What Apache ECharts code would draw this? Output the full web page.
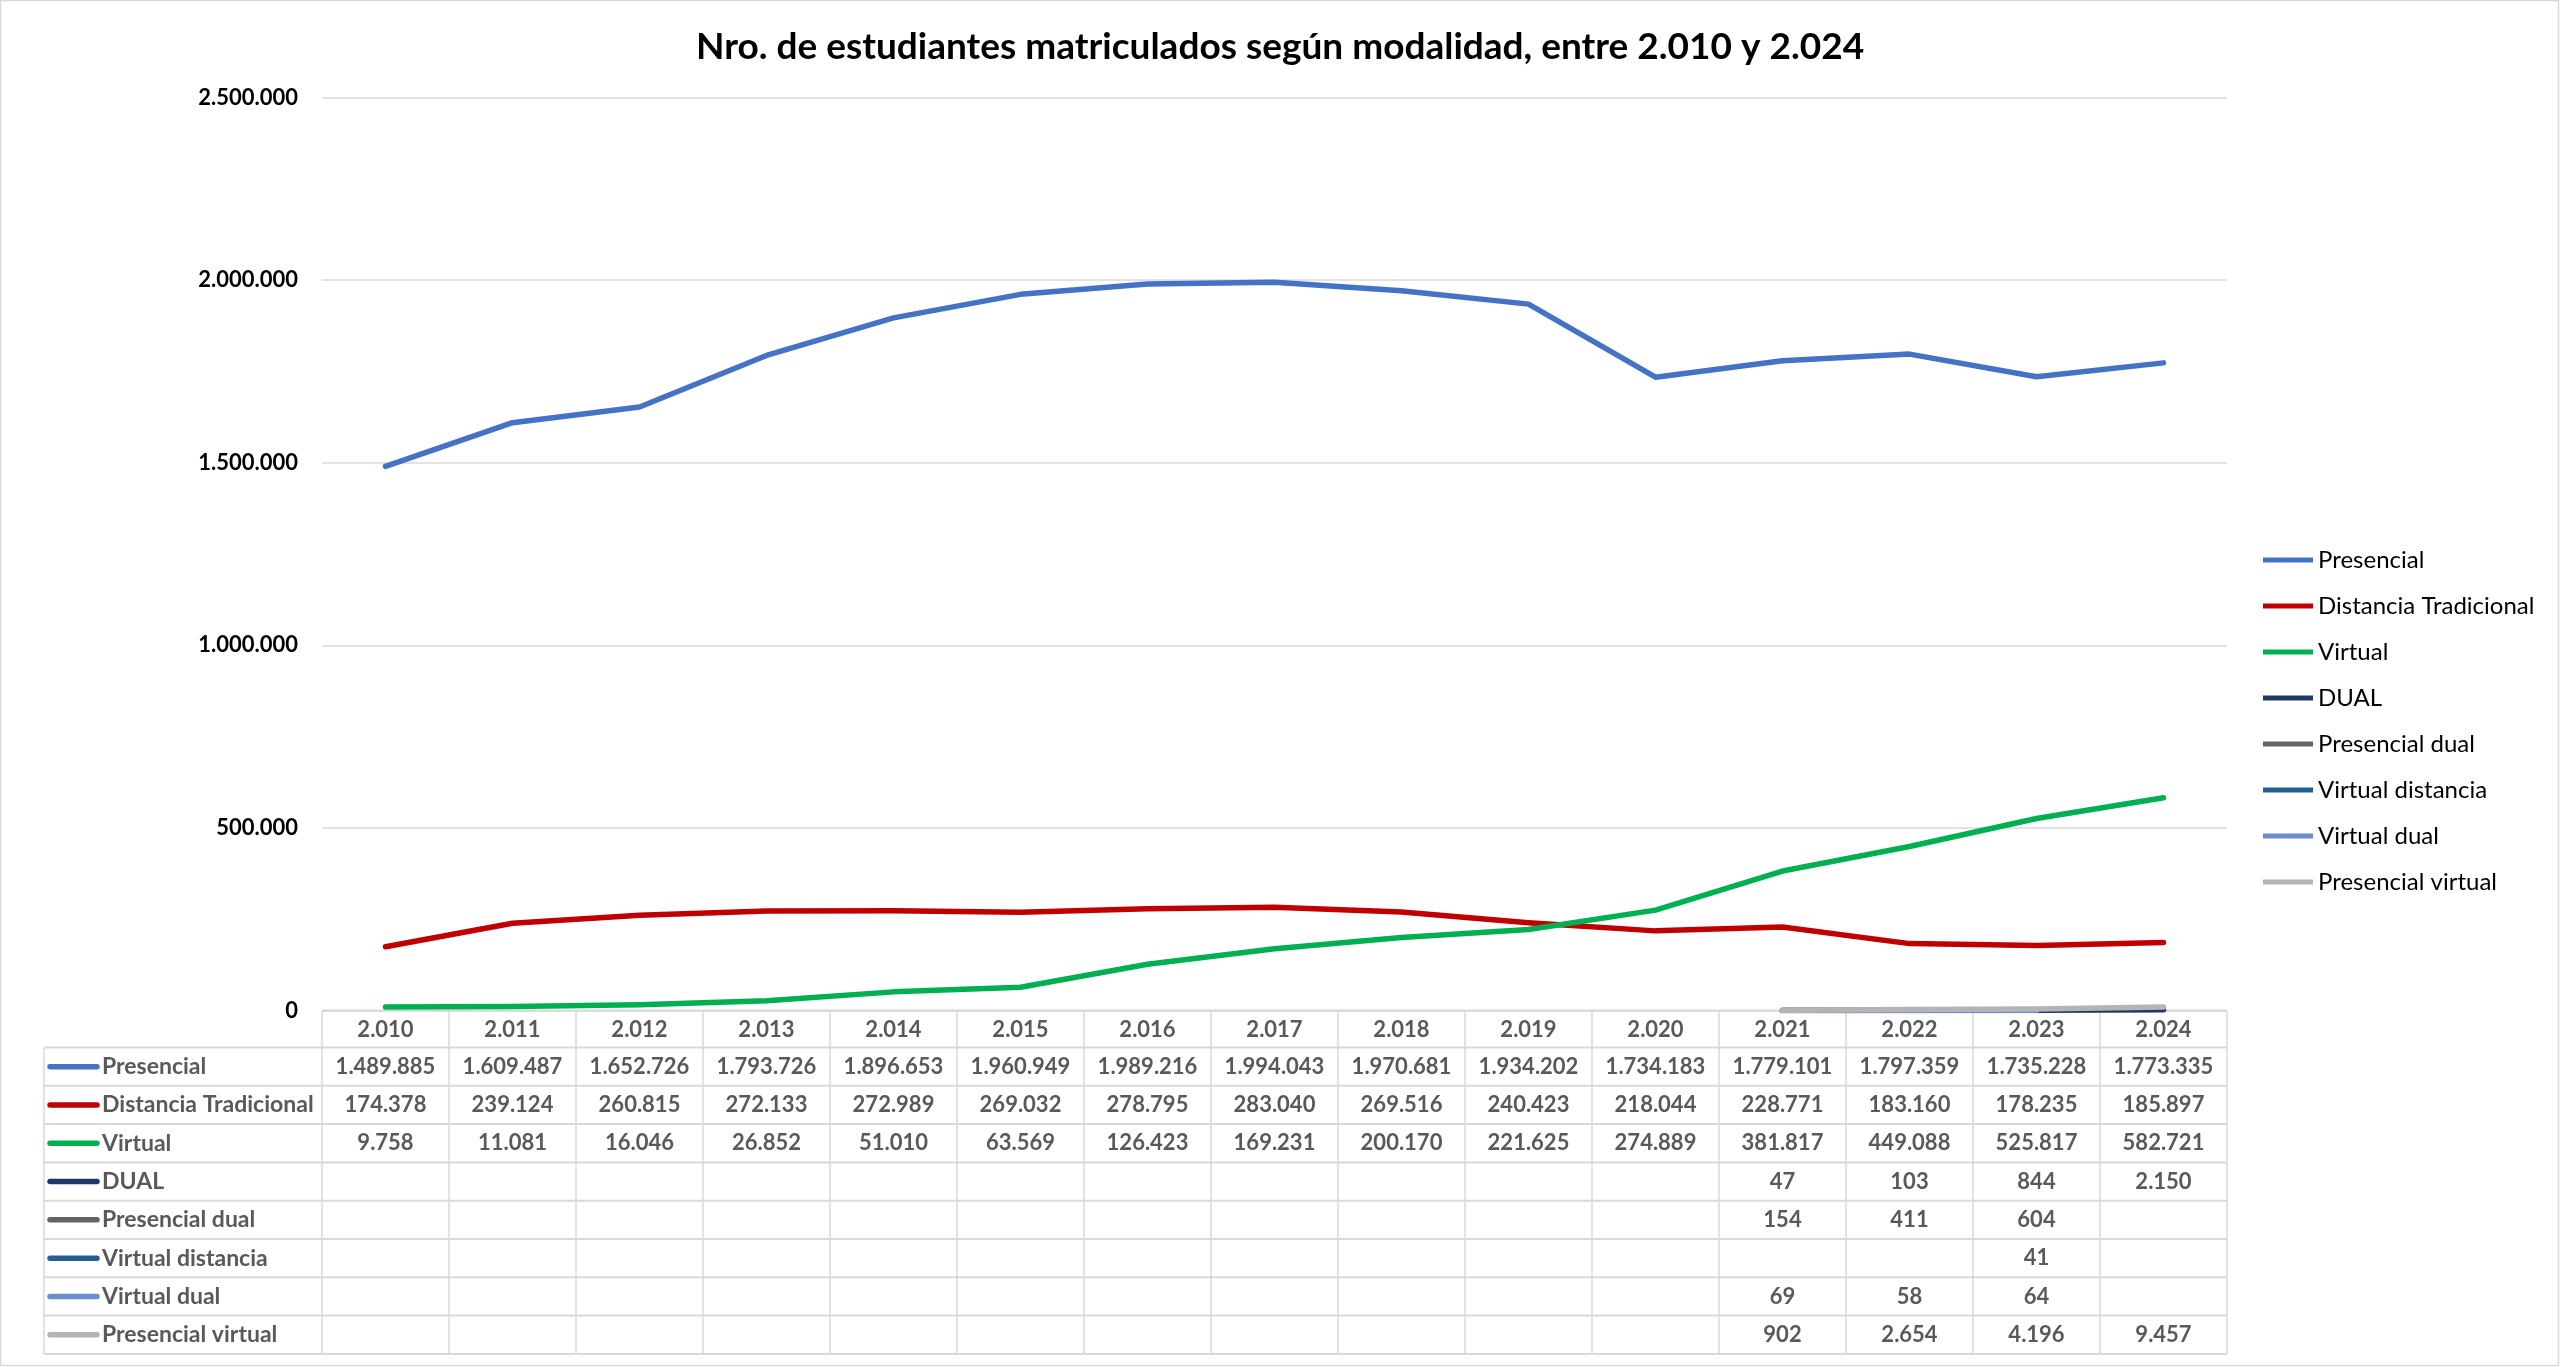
<!DOCTYPE html>
<html>
<head>
<meta charset="utf-8">
<title>Nro. de estudiantes matriculados</title>
<script src="https://cdn.jsdelivr.net/npm/echarts@6/dist/echarts.min.js"></script>
<style>
  html, body { margin: 0; padding: 0; background: #fff; }
  #chart { width: 2560px; height: 1367px; }
</style>
</head>
<body>
<div id="chart"></div>
<script>
// datos (años y series)
const years = ['2.010', '2.011', '2.012', '2.013', '2.014', '2.015', '2.016', '2.017', '2.018', '2.019', '2.020', '2.021', '2.022', '2.023', '2.024']
const presencial = [1489885, 1609487, 1652726, 1793726, 1896653, 1960949, 1989216, 1994043, 1970681, 1934202, 1734183, 1779101, 1797359, 1735228, 1773335]
const distanciaTradicional = [174378, 239124, 260815, 272133, 272989, 269032, 278795, 283040, 269516, 240423, 218044, 228771, 183160, 178235, 185897]
const virtual = [9758, 11081, 16046, 26852, 51010, 63569, 126423, 169231, 200170, 221625, 274889, 381817, 449088, 525817, 582721]
const dual = [null, null, null, null, null, null, null, null, null, null, null, 47, 103, 844, 2150]
const presencialDual = [null, null, null, null, null, null, null, null, null, null, null, 154, 411, 604, null]
const virtualDistancia = [null, null, null, null, null, null, null, null, null, null, null, null, null, 41, null]
const virtualDual = [null, null, null, null, null, null, null, null, null, null, null, 69, 58, 64, null]
const presencialVirtual = [null, null, null, null, null, null, null, null, null, null, null, 902, 2654, 4196, 9457]
const yTicks = [0, 500000, 1000000, 1500000, 2000000, 2500000]

const seriesDefs = [
  { name: 'Presencial', data: presencial, color: '#4472C4' },
  { name: 'Distancia Tradicional', data: distanciaTradicional, color: '#C00000' },
  { name: 'Virtual', data: virtual, color: '#00B050' },
  { name: 'DUAL', data: dual, color: '#203864' },
  { name: 'Presencial dual', data: presencialDual, color: '#636363' },
  { name: 'Virtual distancia', data: virtualDistancia, color: '#255E91' },
  { name: 'Virtual dual', data: virtualDual, color: '#698ED0' },
  { name: 'Presencial virtual', data: presencialVirtual, color: '#B4B4B4' }
]

const FONT = 'Lato, "Noto Sans", sans-serif'
const GRID_COLOR = '#d9d9d9'
const TABLE_TEXT = '#595959'

// separador de miles con punto
function fmt (v) {
  return String(v).replace(/\B(?=(\d{3})+(?!\d))/g, '.')
}

const chart = echarts.init(document.getElementById('chart'))

chart.setOption({
  backgroundColor: '#fff',
  animation: false,
  title: {
    text: 'Nro. de estudiantes matriculados según modalidad, entre 2.010 y 2.024',
    left: 'center',
    top: 24,
    textStyle: { fontFamily: FONT, fontSize: 37, fontWeight: 'bold', color: '#000' }
  },
  grid: {
    left: 322,
    right: 333,
    top: 97.5,
    bottom: 356.5,
    containLabel: false
  },
  legend: {
    orient: 'vertical',
    left: 2258,
    top: 543,
    itemWidth: 50,
    itemHeight: 5,
    itemGap: 22,
    icon: 'rect',
    textStyle: { fontFamily: FONT, fontSize: 24, color: '#000', lineHeight: 24 },
    data: seriesDefs.map(s => s.name)
  },
  xAxis: {
    type: 'category',
    data: years,
    boundaryGap: true,
    axisLine: { show: false },
    axisTick: { show: false },
    axisLabel: {
      margin: 8,
      fontFamily: FONT,
      fontSize: 22,
      fontWeight: 'bold',
      color: TABLE_TEXT
    }
  },
  yAxis: {
    type: 'value',
    min: yTicks[0],
    max: yTicks[yTicks.length - 1],
    interval: yTicks[1] - yTicks[0],
    axisLine: { show: false },
    axisTick: { show: false },
    splitLine: { lineStyle: { color: GRID_COLOR, width: 1.5 } },
    axisLabel: {
      margin: 24,
      fontFamily: FONT,
      fontSize: 22,
      fontWeight: 'bold',
      color: '#000',
      formatter: fmt
    }
  },
  series: seriesDefs.map(s => ({
    name: s.name,
    type: 'line',
    data: s.data,
    color: s.color,
    showSymbol: false,
    symbol: 'none',
    lineStyle: { width: 5.5, color: s.color, cap: 'round', join: 'round' }
  }))
})

// tabla de datos debajo del gráfico (estilo Excel)
function buildTable () {
  const graphic = []
  const x0 = chart.convertToPixel({ xAxisIndex: 0 }, 0)
  const x1 = chart.convertToPixel({ xAxisIndex: 0 }, 1)
  const band = x1 - x0
  const tableLeft = 44
  const colLeft = x0 - band / 2
  const colRight = colLeft + band * years.length
  const headerTop = chart.convertToPixel({ yAxisIndex: 0 }, 0)
  const headerBottom = headerTop + 37
  const rowH = 38.3
  const tableBottom = headerBottom + rowH * seriesDefs.length
  const line = (xa, ya, xb, yb, w) => ({
    type: 'line',
    silent: true,
    z: -1,
    shape: { x1: xa, y1: ya, x2: xb, y2: yb },
    style: { stroke: GRID_COLOR, lineWidth: w }
  })

  // marco del gráfico
  graphic.push({
    type: 'rect',
    silent: true,
    shape: { x: 0.5, y: 0.5, width: 2558, height: 1365 },
    style: { fill: null, stroke: GRID_COLOR, lineWidth: 1.5 }
  })

  // líneas horizontales
  graphic.push(line(colLeft, headerTop, colRight, headerTop, 2))
  for (let r = 0; r <= seriesDefs.length; r++) {
    const y = headerBottom + r * rowH
    graphic.push(line(tableLeft, y, colRight, y, 2))
  }
  // líneas verticales
  graphic.push(line(tableLeft, headerBottom, tableLeft, tableBottom, 1.5))
  for (let c = 0; c <= years.length; c++) {
    const x = colLeft + c * band
    graphic.push(line(x, headerTop, x, tableBottom, 1.5))
  }

  seriesDefs.forEach((s, r) => {
    const cy = headerBottom + r * rowH + rowH / 2
    // clave de la serie
    graphic.push({
      type: 'line',
      silent: true,
      shape: { x1: 50, y1: cy, x2: 97, y2: cy },
      style: { stroke: s.color, lineWidth: 5.5, lineCap: 'round' }
    })
    graphic.push({
      type: 'text',
      silent: true,
      x: 102,
      y: cy,
      style: {
        text: s.name,
        fill: TABLE_TEXT,
        font: 'bold 23px ' + FONT,
        align: 'left',
        verticalAlign: 'middle'
      }
    })
    s.data.forEach((v, c) => {
      if (v == null) return
      graphic.push({
        type: 'text',
        silent: true,
        x: chart.convertToPixel({ xAxisIndex: 0 }, c),
        y: cy,
        style: {
          text: fmt(v),
          fill: TABLE_TEXT,
          font: 'bold 22px ' + FONT,
          align: 'center',
          verticalAlign: 'middle'
        }
      })
    })
  })

  chart.setOption({ graphic: graphic })
}

buildTable()
</script>
</body>
</html>
